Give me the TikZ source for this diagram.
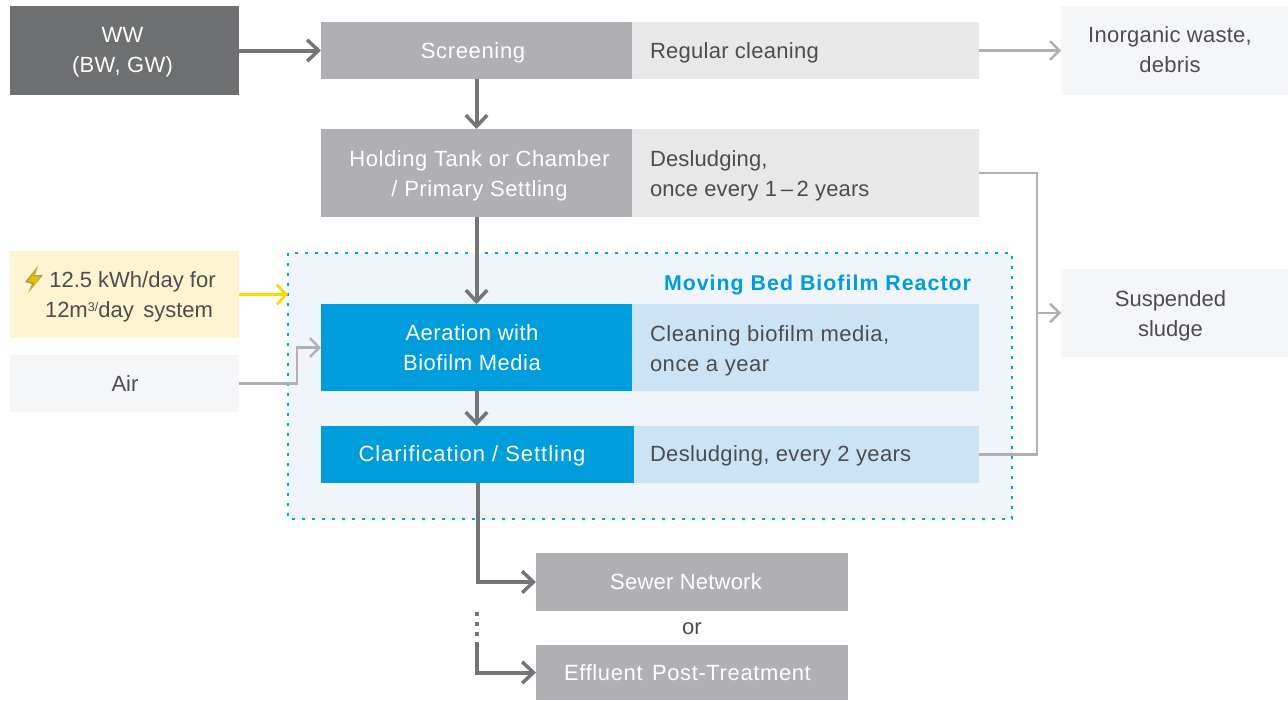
\documentclass[tikz,border=0pt]{standalone}
\usepackage{fontspec}
\setmainfont{Liberation Sans}
\usetikzlibrary{arrows.meta}
\definecolor{darkbox}{HTML}{6D6F71}
\definecolor{darkline}{HTML}{737577}
\definecolor{greybox}{HTML}{B0AFB3}
\definecolor{noteg}{HTML}{E8E8E8}
\definecolor{outbox}{HTML}{F5F6F8}
\definecolor{panel}{HTML}{F0F5FC}
\definecolor{bluebox}{HTML}{009DDC}
\definecolor{dots}{HTML}{00A7E5}
\definecolor{noteb}{HTML}{CCE2F5}
\definecolor{energy}{HTML}{FDF4D2}
\definecolor{txt}{HTML}{4D4D4F}
\definecolor{yel}{HTML}{FFD800}
\tikzset{
  x=0.75pt,y=-0.75pt,
  base/.style={draw=none,inner sep=0pt,outer sep=0pt},
  lab/.style={inner sep=0pt,outer sep=0pt,align=center,text=txt},
  wlab/.style={lab,text=white},
  nlab/.style={lab,align=left,anchor=west},
  heavy/.style={draw=darkline,line width=3pt,-{Straight Barb[length=8.5pt,width=16pt,line width=2.6pt]}},
  light/.style={draw=greybox,line width=2pt,-{Straight Barb[length=7pt,width=14pt,line width=1.8pt]}},
  lightplain/.style={draw=greybox,line width=2pt},
  yarrow/.style={draw=yel,line width=2.2pt,-{Straight Barb[length=7pt,width=15pt,line width=2pt]}},
}
% \bx{fill}{name}{x0}{y0}{x1}{y1}
\newcommand{\bx}[6]{\node[base,fill=#1,minimum width=#5*0.75pt-#3*0.75pt,minimum height=#6*0.75pt-#4*0.75pt] (#2) at ({(#3+#5)/2},{(#4+#6)/2}) {};}
% \tx[letterspace]{style}{name}{x}{y}{text}
\newcommand{\tx}[6][0]{\node[#2,font={\fontsize{16.5}{22.5}\selectfont\addfontfeature{LetterSpace=#1}}] (#3) at (#4,#5) {#6};}
\begin{document}
\begin{tikzpicture}
\useasboundingbox (0,0) rectangle (1288,700);
% panel
\node[base,fill=panel,minimum width=724*0.75pt,minimum height=266*0.75pt] (mbbr) at (650,386) {};
\draw[dots,line width=2pt,dash pattern=on 2pt off 5.5pt] (mbbr.north west) rectangle (mbbr.south east);
\node[lab,anchor=east,text=bluebox,font={\fontsize{16}{20}\bfseries\selectfont\addfontfeature{LetterSpace=4.8}}] (title) at (971,285) {Moving Bed Biofilm Reactor};
% boxes
\bx{darkbox}{ww}{10}{6}{239}{95}
\tx[1.5]{wlab}{wwt}{122.5}{52.5}{WW\\(BW, GW)}
\bx{greybox}{screen}{321}{22}{632}{79}
\tx[3]{wlab}{screent}{473}{52.5}{Screening}
\bx{noteg}{snote}{632}{22}{979}{79}
\tx[1.2]{nlab}{snotet}{650}{53}{Regular cleaning}
\bx{outbox}{inorg}{1061}{6}{1288}{95}
\tx[1.1]{lab}{inorgt}{1170}{49.5}{Inorganic waste,\\debris}
\bx{greybox}{hold}{321}{129}{632}{217}
\tx[2.6]{wlab}{holdt}{479.5}{175.5}{Holding Tank or Chamber\\/ Primary Settling}
\bx{noteg}{hnote}{632}{129}{979}{217}
\tx[0.6]{nlab}{hnotet}{650}{175.5}{Desludging,\\once every 1\,–\,2 years}
\bx{energy}{energy}{10}{251}{239}{338}
\tx{lab}{energyt}{129}{297}{\hspace*{5.2pt}12.5 kWh/day for\\12m\raisebox{4.5pt}{\fontsize{9.5}{10}\selectfont 3/}day\hspace{2.5pt} system}
\fill[yel!55!black!70] (38,266) -- (25,282) -- (32,284) -- (28,293) -- (43,275) -- (35,275) -- cycle;
\fill[yel!90!black] (37,269) -- (28,281) -- (35,283) -- (31,290) -- (40,277) -- (33,276) -- cycle;
\bx{outbox}{air}{10}{355}{239}{412}
\tx{lab}{airt}{125}{383.5}{Air}
\bx{bluebox}{aer}{321}{304}{632}{391}
\tx[2.4]{wlab}{aert}{472}{347.5}{Aeration with\\Biofilm Media}
\bx{noteb}{anote}{632}{304}{979}{391}
\tx[2.4]{nlab}{anotet}{650}{350.5}{Cleaning biofilm media,\\once a year}
\bx{bluebox}{clar}{321}{426}{634}{483}
\tx[4.4]{wlab}{clart}{472}{456}{Clarification / Settling}
\bx{noteb}{cnote}{634}{426}{979}{483}
\tx[1.5]{nlab}{cnotet}{650}{456}{Desludging, every 2 years}
\bx{outbox}{susp}{1061}{269}{1288}{357}
\tx{lab}{suspt}{1170.5}{316}{Suspended\\sludge}
\bx{greybox}{sewer}{536}{553}{848}{611}
\tx[1]{wlab}{sewert}{686}{582}{Sewer Network}
\tx{lab}{ortext}{692}{629}{or}
\bx{greybox}{eff}{536}{645}{848}{700}
\tx[2.8]{wlab}{efft}{687.5}{672.5}{Effluent\hspace{2pt} Post-Treatment}
% connectors
\coordinate (bus) at (1037,313);
\coordinate (airc) at (297,347.5);
\coordinate (dotstart) at (477,612);
\coordinate (effstart) at (477,643);
\draw[heavy] (ww.east |- screen.west) -- (screen.west);
\draw[heavy] (screen.south) -- (hold.north);
\draw[heavy] (hold.south) -- (aer.north);
\draw[heavy] (aer.south) -- (aer.south |- clar.north);
\draw[heavy] (clar.south) |- (sewer.west);
\draw[heavy] (effstart) |- (eff.west);
\draw[darkline,line width=3pt,dash pattern=on 3pt off 4.5pt] (dotstart) -- (effstart);
\draw[light] (snote.east) -- (inorg.west |- snote.east);
\draw[lightplain] (hnote.east) -| (bus);
\draw[lightplain] (cnote.east) -| (bus);
\draw[light] (bus) -- (susp.west);
\draw[yarrow] (energy.east) -- (energy.east -| mbbr.west);
\draw[light] (air.east) -| (airc) -- (airc -| aer.west);
\end{tikzpicture}
\end{document}
